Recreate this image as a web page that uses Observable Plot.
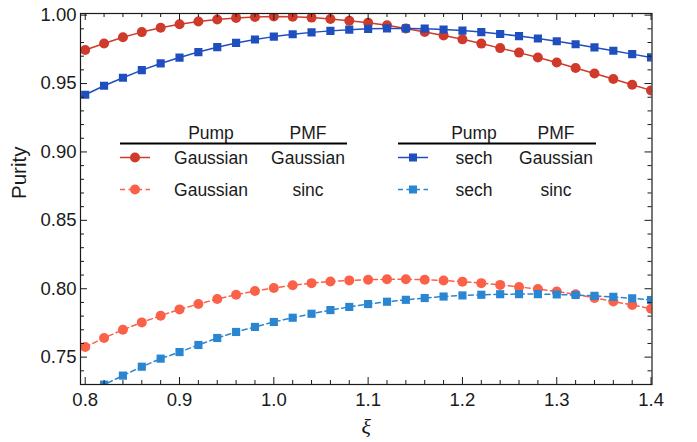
<!DOCTYPE html>
<html>
<head>
<meta charset="utf-8">
<script src="https://cdn.jsdelivr.net/npm/d3@7"></script>
<script src="https://cdn.jsdelivr.net/npm/@observablehq/plot@0.6"></script>
<style>
  html, body { margin: 0; padding: 0; background: #fff; }
  #chart svg { display: block; }
</style>
</head>
<body>
<div id="chart"></div>
<script>
// ---- data ----
const xi = [0.80,0.82,0.84,0.86,0.88,0.90,0.92,0.94,0.96,0.98,1.00,1.02,1.04,1.06,1.08,1.10,1.12,1.14,1.16,1.18,1.20,1.22,1.24,1.26,1.28,1.30,1.32,1.34,1.36,1.38,1.40];
const gaussGauss = [0.9745,0.9793,0.9838,0.9876,0.9908,0.9934,0.9953,0.9968,0.9980,0.9987,0.9990,0.9989,0.9982,0.9972,0.9959,0.9944,0.9926,0.9902,0.9877,0.9851,0.9823,0.9792,0.9759,0.9726,0.9691,0.9654,0.9614,0.9574,0.9533,0.9491,0.9450];
const sechGauss  = [0.9418,0.9484,0.9542,0.9598,0.9647,0.9690,0.9730,0.9766,0.9797,0.9822,0.9843,0.9860,0.9874,0.9885,0.9894,0.9900,0.9903,0.9903,0.9901,0.9895,0.9887,0.9876,0.9862,0.9847,0.9829,0.9809,0.9787,0.9764,0.9740,0.9715,0.9691];
const gaussSinc  = [0.7574,0.7640,0.7700,0.7754,0.7803,0.7849,0.7888,0.7925,0.7956,0.7983,0.8005,0.8025,0.8041,0.8053,0.8061,0.8066,0.8069,0.8069,0.8066,0.8060,0.8052,0.8041,0.8028,0.8013,0.7998,0.7980,0.7959,0.7933,0.7907,0.7881,0.7854];
const sechSinc   = [0.7225,0.7299,0.7365,0.7430,0.7489,0.7537,0.7589,0.7640,0.7684,0.7721,0.7757,0.7788,0.7817,0.7844,0.7867,0.7888,0.7905,0.7919,0.7932,0.7943,0.7951,0.7956,0.7960,0.7961,0.7961,0.7958,0.7954,0.7948,0.7940,0.7930,0.7918];

const seriesNames = ["gg", "gs", "sg", "ss"];
const pumpLabels = ["Gaussian", "Gaussian", "sech", "sech"];
const pmfLabels  = ["Gaussian", "sinc", "Gaussian", "sinc"];
const colors = {gg: "#cf3a2b", gs: "#fb6149", sg: "#1f4fbe", ss: "#2b86d2"};
const dashes = {gg: null, gs: "5,3.5", sg: null, ss: "5,3.5"};
const symbols = {gg: "circle", gs: "circle", sg: "square", ss: "square"};

const xMajor = [0.8, 0.9, 1.0, 1.1, 1.2, 1.3, 1.4];
const xMinor = [0.82,0.84,0.86,0.88,0.92,0.94,0.96,0.98,1.02,1.04,1.06,1.08,1.12,1.14,1.16,1.18,1.22,1.24,1.26,1.28,1.32,1.34,1.36,1.38];
const yMajor = [0.75, 0.80, 0.85, 0.90, 0.95, 1.00];
const yMinor = [0.73,0.74,0.76,0.77,0.78,0.79,0.81,0.82,0.83,0.84,0.86,0.87,0.88,0.89,0.91,0.92,0.93,0.94,0.96,0.97,0.98,0.99];

// ---- table for the library ----
const valuesBy = {gg: gaussGauss, gs: gaussSinc, sg: sechGauss, ss: sechSinc};
const rows = seriesNames.flatMap(s => xi.map((x, i) => ({series: s, x, y: valuesBy[s][i]})));

// ---- layout ----
const W = 697, H = 442;
const mL = 80, mR = 45.5, mT = 13, mB = 58;
const plotW = W - mL - mR, plotH = H - mT - mB;
const majorLen = 7, minorLen = 4;
const font = "'Liberation Sans', Arial, sans-serif";
const ink = "#1a1a1a";

const marks = [];
for (const s of seriesNames) {
  const data = rows.filter(d => d.series === s);
  marks.push(Plot.line(data, {x: "x", y: "y", stroke: colors[s], strokeWidth: 1.5, strokeDasharray: dashes[s], clip: true}));
  marks.push(Plot.dot(data, {x: "x", y: "y", fill: colors[s], stroke: "none", symbol: symbols[s], r: symbols[s] === "circle" ? 5 : 4.6, clip: true}));
}
// ticks (inward) on all four sides
for (const [t, len] of [[xMajor, majorLen], [xMinor, minorLen]]) {
  marks.push(Plot.tickX(t, {x: d => d, insetTop: plotH - len, stroke: ink, strokeWidth: 1}));
  marks.push(Plot.tickX(t, {x: d => d, insetBottom: plotH - len, stroke: ink, strokeWidth: 1}));
}
for (const [t, len] of [[yMajor, majorLen], [yMinor, minorLen]]) {
  marks.push(Plot.tickY(t, {y: d => d, insetRight: plotW - len, stroke: ink, strokeWidth: 1}));
  marks.push(Plot.tickY(t, {y: d => d, insetLeft: plotW - len, stroke: ink, strokeWidth: 1}));
}
marks.push(Plot.frame({stroke: ink, strokeWidth: 1.2}));
marks.push(Plot.axisX(xMajor, {tickSize: 0, tickPadding: 8, tickFormat: d3.format(".1f"), label: null, fontSize: 18.5, fill: ink}));
marks.push(Plot.axisY(yMajor, {tickSize: 0, tickPadding: 4, tickFormat: d3.format(".2f"), label: null, fontSize: 18.5, fill: ink}));
marks.push(Plot.text(["Purity"], {frameAnchor: "left", dx: -61, rotate: -90, fontSize: 20.5, fill: ink}));
marks.push(Plot.text(["ξ"], {frameAnchor: "bottom", dy: 49, fontSize: 22, fontStyle: "italic", fontFamily: "'Liberation Serif', 'DejaVu Serif', serif", fill: ink}));

const chart = Plot.plot({
  width: W, height: H,
  marginLeft: mL, marginRight: mR, marginTop: mT, marginBottom: mB,
  style: {fontFamily: font, fontSize: "18px", background: "#fff", color: ink},
  x: {domain: [0.795, 1.401], axis: null},
  y: {domain: [0.7300, 1.0012], axis: null},
  marks
});
document.getElementById("chart").appendChild(chart);

// ---- legend tables (two blocks) ----
const svg = d3.select(chart);
const legendBlocks = [
  {series: ["gg", "gs"], ruleX: [120, 347], sampleX: [120, 150], col1: 211, col2: 308},
  {series: ["sg", "ss"], ruleX: [398, 596], sampleX: [398, 428], col1: 474, col2: 556}
];
const headerY = 138.5, ruleY = 143.5, rowY = [157.5, 189.5];
for (const b of legendBlocks) {
  const g = svg.append("g").attr("font-family", font).attr("font-size", 17.5).attr("fill", ink);
  g.append("text").attr("x", b.col1).attr("y", headerY).attr("text-anchor", "middle").text("Pump");
  g.append("text").attr("x", b.col2).attr("y", headerY).attr("text-anchor", "middle").text("PMF");
  g.append("line").attr("x1", b.ruleX[0]).attr("x2", b.ruleX[1]).attr("y1", ruleY).attr("y2", ruleY)
    .attr("stroke", "#000").attr("stroke-width", 2);
  b.series.forEach((s, i) => {
    const y = rowY[i];
    const idx = seriesNames.indexOf(s);
    g.append("line").attr("x1", b.sampleX[0]).attr("x2", b.sampleX[1]).attr("y1", y).attr("y2", y)
      .attr("stroke", colors[s]).attr("stroke-width", 1.5).attr("stroke-dasharray", dashes[s]);
    const cx = (b.sampleX[0] + b.sampleX[1]) / 2;
    if (symbols[s] === "circle") {
      g.append("circle").attr("cx", cx).attr("cy", y).attr("r", 5).attr("fill", colors[s]);
    } else {
      g.append("rect").attr("x", cx - 4).attr("y", y - 4).attr("width", 8).attr("height", 8).attr("fill", colors[s]);
    }
    g.append("text").attr("x", b.col1).attr("y", y).attr("dy", "0.35em").attr("text-anchor", "middle").text(pumpLabels[idx]);
    g.append("text").attr("x", b.col2).attr("y", y).attr("dy", "0.35em").attr("text-anchor", "middle").text(pmfLabels[idx]);
  });
}
</script>
</body>
</html>
